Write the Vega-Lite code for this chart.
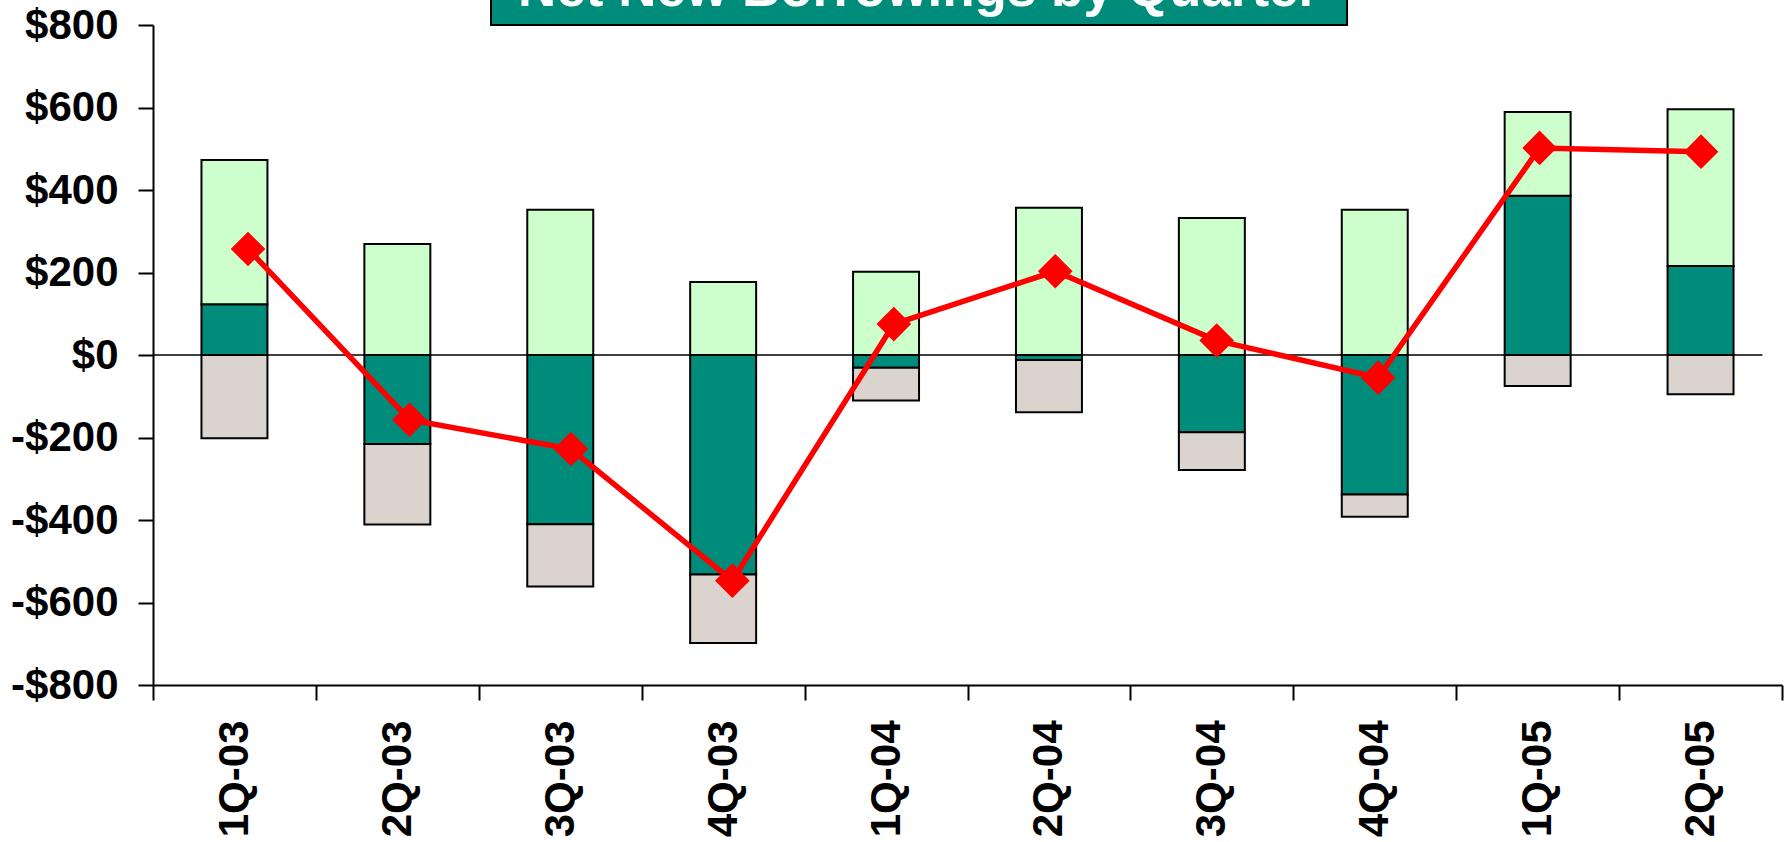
{
  "$schema": "https://vega.github.io/schema/vega-lite/v6.json",
  "autosize": {"type": "none"},
  "width": 1629,
  "height": 660,
  "padding": {"left": 153, "top": 25, "right": 7, "bottom": 157},
  "background": "white",
  "config": {
    "view": {"stroke": null},
    "font": "Liberation Sans",
    "axis": {
      "domainColor": "black",
      "domainWidth": 2,
      "tickColor": "black",
      "tickWidth": 2,
      "tickSize": 15,
      "labelFont": "Liberation Sans",
      "labelFontWeight": "bold",
      "labelColor": "black",
      "labelFontSize": 42,
      "labelPadding": 20,
      "grid": false,
      "title": null
    }
  },
  "datasets": {
    "components": [
      {"quarter": "1Q-03", "series": "Series 1", "amount": 123},
      {"quarter": "2Q-03", "series": "Series 1", "amount": -216},
      {"quarter": "3Q-03", "series": "Series 1", "amount": -410},
      {"quarter": "4Q-03", "series": "Series 1", "amount": -532},
      {"quarter": "1Q-04", "series": "Series 1", "amount": -31},
      {"quarter": "2Q-04", "series": "Series 1", "amount": -12},
      {"quarter": "3Q-04", "series": "Series 1", "amount": -187},
      {"quarter": "4Q-04", "series": "Series 1", "amount": -338},
      {"quarter": "1Q-05", "series": "Series 1", "amount": 386},
      {"quarter": "2Q-05", "series": "Series 1", "amount": 216},
      {"quarter": "1Q-03", "series": "Series 2", "amount": 350},
      {"quarter": "2Q-03", "series": "Series 2", "amount": 269},
      {"quarter": "3Q-03", "series": "Series 2", "amount": 352},
      {"quarter": "4Q-03", "series": "Series 2", "amount": 177},
      {"quarter": "1Q-04", "series": "Series 2", "amount": 202},
      {"quarter": "2Q-04", "series": "Series 2", "amount": 357},
      {"quarter": "3Q-04", "series": "Series 2", "amount": 332},
      {"quarter": "4Q-04", "series": "Series 2", "amount": 352},
      {"quarter": "1Q-05", "series": "Series 2", "amount": 203},
      {"quarter": "2Q-05", "series": "Series 2", "amount": 380},
      {"quarter": "1Q-03", "series": "Series 3", "amount": -202},
      {"quarter": "2Q-03", "series": "Series 3", "amount": -195},
      {"quarter": "3Q-03", "series": "Series 3", "amount": -151},
      {"quarter": "4Q-03", "series": "Series 3", "amount": -166},
      {"quarter": "1Q-04", "series": "Series 3", "amount": -79},
      {"quarter": "2Q-04", "series": "Series 3", "amount": -127},
      {"quarter": "3Q-04", "series": "Series 3", "amount": -92},
      {"quarter": "4Q-04", "series": "Series 3", "amount": -54},
      {"quarter": "1Q-05", "series": "Series 3", "amount": -75},
      {"quarter": "2Q-05", "series": "Series 3", "amount": -95}
    ],
    "net": [
      {"quarter": "1Q-03", "net": 257},
      {"quarter": "2Q-03", "net": -157},
      {"quarter": "3Q-03", "net": -228},
      {"quarter": "4Q-03", "net": -547},
      {"quarter": "1Q-04", "net": 75},
      {"quarter": "2Q-04", "net": 203},
      {"quarter": "3Q-04", "net": 35},
      {"quarter": "4Q-04", "net": -55},
      {"quarter": "1Q-05", "net": 502},
      {"quarter": "2Q-05", "net": 493}
    ],
    "heading": [
      {"label": "Net New Borrowings by Quarter"}
    ]
  },
  "layer": [
    {
      "data": {"name": "components"},
      "mark": {"type": "bar", "stroke": "black", "strokeWidth": 2, "width": {"band": 0.405}},
      "encoding": {
        "x": {
          "field": "quarter",
          "type": "nominal",
          "sort": null,
          "scale": {"paddingInner": 0, "paddingOuter": 0},
          "axis": {
            "labelAngle": -90,
            "labelAlign": "right",
            "labelBaseline": "middle",
            "labelOverlap": false,
            "tickBand": "extent"
          }
        },
        "y": {
          "field": "amount",
          "type": "quantitative",
          "stack": "zero",
          "scale": {"domain": [-800, 800], "nice": false},
          "axis": {
            "values": [-800, -600, -400, -200, 0, 200, 400, 600, 800],
            "labelExpr": "(datum.value < 0 ? '-$' : '$') + abs(datum.value)"
          }
        },
        "color": {
          "field": "series",
          "type": "nominal",
          "scale": {
            "domain": ["Series 1", "Series 2", "Series 3"],
            "range": ["#008C7A", "#CCFFCC", "#DBD4CE"]
          },
          "legend": null
        },
        "order": {"field": "series", "sort": "ascending"}
      }
    },
    {
      "data": {"name": "heading"},
      "mark": {"type": "rule", "color": "black", "strokeWidth": 1.5},
      "encoding": {
        "x": {"datum": 0, "type": "quantitative", "scale": {"domain": [0, 10]}, "axis": null},
        "x2": {"datum": 9.88},
        "y": {"datum": 0, "type": "quantitative", "scale": {"domain": [-800, 800], "nice": false}}
      }
    },
    {
      "data": {"name": "net"},
      "encoding": {
        "x": {
          "field": "quarter",
          "type": "nominal",
          "sort": null,
          "scale": {"type": "point", "padding": 0.545, "align": 0.54},
          "axis": null
        },
        "y": {"field": "net", "type": "quantitative", "scale": {"domain": [-800, 800], "nice": false}}
      },
      "layer": [
        {"mark": {"type": "line", "color": "#FF0000", "strokeWidth": 5.5}},
        {"mark": {"type": "point", "shape": "diamond", "size": 1200, "filled": true, "color": "#FF0000", "opacity": 1}}
      ]
    },
    {
      "data": {"name": "heading"},
      "mark": {"type": "rect", "fill": "#008C7A", "stroke": "black", "strokeWidth": 2, "clip": false},
      "encoding": {
        "x": {"datum": 2.075, "type": "quantitative", "scale": {"domain": [0, 10]}, "axis": null},
        "x2": {"datum": 7.33},
        "y": {"datum": 800, "type": "quantitative", "scale": {"domain": [-800, 800], "nice": false}},
        "y2": {"datum": 920}
      }
    },
    {
      "data": {"name": "heading"},
      "mark": {
        "type": "text",
        "color": "white",
        "font": "Liberation Sans",
        "fontWeight": "bold",
        "fontSize": 53,
        "align": "center",
        "baseline": "alphabetic",
        "clip": false
      },
      "encoding": {
        "x": {"datum": 4.70, "type": "quantitative", "scale": {"domain": [0, 10]}, "axis": null},
        "y": {"datum": 845, "type": "quantitative", "scale": {"domain": [-800, 800], "nice": false}},
        "text": {"field": "label"}
      }
    }
  ],
  "resolve": {"scale": {"x": "independent"}}
}
